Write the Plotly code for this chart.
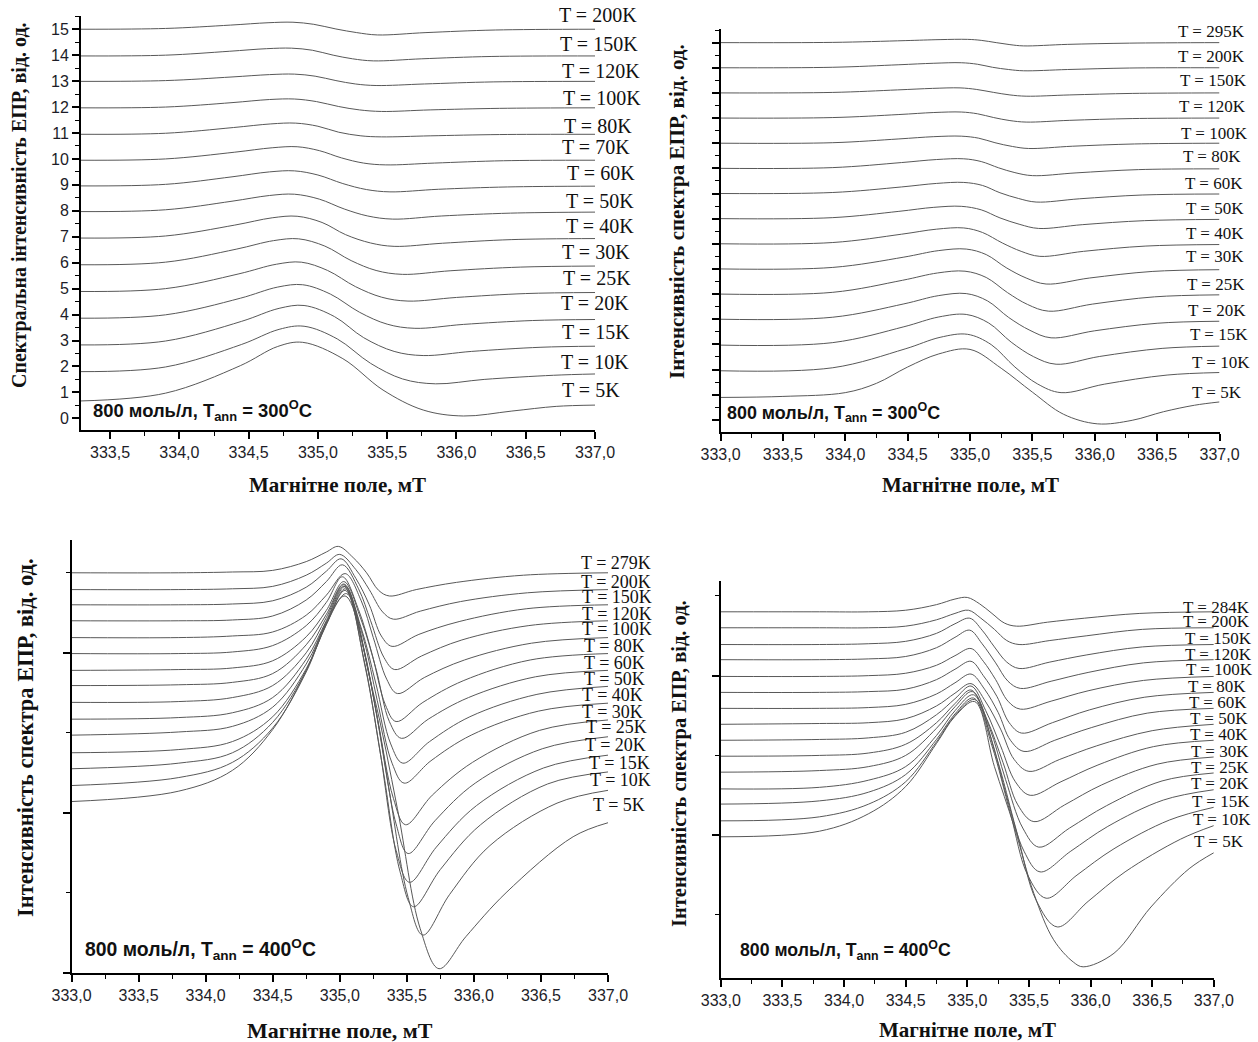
import plotly.graph_objects as go

W, H = 1258, 1042

# ---------------- axis ticks ----------------
field_ticks = [333.0, 333.5, 334.0, 334.5, 335.0, 335.5, 336.0, 336.5, 337.0]
field_tick_text = ["333,0", "333,5", "334,0", "334,5", "335,0", "335,5", "336,0", "336,5", "337,0"]
field_minor = [333.25, 333.75, 334.25, 334.75, 335.25, 335.75, 336.25, 336.75]
intensity_ticks_a = list(range(0, 16))
intensity_tick_text_a = [str(v) for v in intensity_ticks_a]

# ---------------- panel (a): 300 C, top left ----------------
temps_a = ["200K", "150K", "120K", "100K", "80K", "70K", "60K", "50K", "40K", "30K", "25K", "20K", "15K", "10K", "5K"]
field_a = [
    [333.29, 333.9, 334.37, 334.64, 334.82, 334.97, 335.13, 335.28, 335.43, 335.78, 336.28, 337.0],
    [333.29, 333.9, 334.36, 334.63, 334.81, 334.96, 335.11, 335.25, 335.40, 335.75, 336.25, 337.0],
    [333.29, 333.9, 334.38, 334.65, 334.83, 334.98, 335.13, 335.27, 335.42, 335.77, 336.27, 337.0],
    [333.29, 333.9, 334.38, 334.65, 334.83, 334.99, 335.15, 335.30, 335.46, 335.81, 336.31, 337.0],
    [333.29, 333.9, 334.39, 334.66, 334.84, 335.00, 335.15, 335.31, 335.46, 335.81, 336.31, 337.0],
    [333.29, 333.9, 334.40, 334.67, 334.85, 335.01, 335.17, 335.33, 335.49, 335.84, 336.34, 337.0],
    [333.29, 333.9, 334.38, 334.65, 334.83, 335.00, 335.18, 335.35, 335.52, 335.87, 336.37, 337.0],
    [333.29, 333.9, 334.38, 334.65, 334.83, 335.01, 335.19, 335.36, 335.54, 335.89, 336.39, 337.0],
    [333.29, 333.9, 334.40, 334.67, 334.85, 335.03, 335.20, 335.38, 335.55, 335.90, 336.40, 337.0],
    [333.29, 333.9, 334.41, 334.68, 334.86, 335.05, 335.24, 335.42, 335.61, 335.96, 336.46, 337.0],
    [333.29, 333.9, 334.43, 334.70, 334.88, 335.07, 335.27, 335.46, 335.65, 336.00, 336.50, 337.0],
    [333.29, 333.9, 334.44, 334.71, 334.89, 335.09, 335.30, 335.50, 335.70, 336.05, 336.55, 337.0],
    [333.29, 333.9, 334.45, 334.72, 334.90, 335.12, 335.33, 335.55, 335.76, 336.11, 336.61, 337.0],
    [333.29, 333.9, 334.45, 334.72, 334.90, 335.14, 335.38, 335.61, 335.85, 336.20, 336.70, 337.0],
    [333.29, 333.9, 334.44, 334.71, 334.89, 335.18, 335.47, 335.76, 336.05, 336.40, 336.72, 337.0],
]
signal_a = [
    [15.00, 15.03, 15.16, 15.25, 15.27, 15.19, 15.01, 14.87, 14.78, 14.87, 14.97, 15.00],
    [13.97, 14.00, 14.15, 14.25, 14.27, 14.19, 14.00, 13.86, 13.78, 13.86, 13.95, 13.97],
    [12.99, 13.02, 13.16, 13.25, 13.27, 13.19, 13.02, 12.89, 12.83, 12.89, 12.97, 12.99],
    [11.97, 12.00, 12.17, 12.29, 12.31, 12.21, 12.02, 11.89, 11.83, 11.89, 11.95, 11.97],
    [10.95, 10.99, 11.21, 11.35, 11.38, 11.26, 11.03, 10.89, 10.85, 10.89, 10.94, 10.95],
    [9.95, 10.00, 10.26, 10.43, 10.47, 10.32, 10.04, 9.84, 9.77, 9.84, 9.93, 9.95],
    [8.96, 9.02, 9.31, 9.50, 9.54, 9.38, 9.05, 8.82, 8.73, 8.83, 8.92, 8.95],
    [7.97, 8.04, 8.37, 8.59, 8.64, 8.45, 8.07, 7.80, 7.68, 7.80, 7.91, 7.95],
    [6.95, 7.03, 7.45, 7.73, 7.79, 7.55, 7.08, 6.76, 6.63, 6.75, 6.89, 6.93],
    [5.92, 6.02, 6.52, 6.85, 6.92, 6.64, 6.08, 5.70, 5.55, 5.69, 5.83, 5.87],
    [4.89, 5.00, 5.57, 5.94, 6.02, 5.70, 5.08, 4.67, 4.52, 4.66, 4.81, 4.85],
    [3.86, 3.99, 4.63, 5.06, 5.15, 4.79, 4.09, 3.63, 3.47, 3.62, 3.77, 3.81],
    [2.83, 2.98, 3.74, 4.24, 4.35, 3.92, 3.11, 2.58, 2.42, 2.58, 2.74, 2.78],
    [1.80, 1.98, 2.85, 3.43, 3.55, 3.06, 2.12, 1.52, 1.33, 1.50, 1.66, 1.71],
    [0.67, 0.97, 2.03, 2.77, 2.93, 2.30, 1.09, 0.32, 0.09, 0.28, 0.46, 0.51],
]

# ---------------- panel (b): 300 C, top right ----------------
temps_b = ["295K", "200K", "150K", "120K", "100K", "80K", "60K", "50K", "40K", "30K", "25K", "20K", "15K", "10K", "5K"]
field_b = [
    [333.0, 333.9, 334.48, 334.76, 334.98, 335.09, 335.21, 335.32, 335.43, 335.78, 336.28, 337.0],
    [333.0, 333.9, 334.43, 334.71, 334.93, 335.06, 335.18, 335.31, 335.43, 335.78, 336.28, 337.0],
    [333.0, 333.9, 334.42, 334.70, 334.92, 335.05, 335.19, 335.32, 335.45, 335.80, 336.30, 337.0],
    [333.0, 333.9, 334.43, 334.71, 334.93, 335.06, 335.19, 335.32, 335.45, 335.80, 336.30, 337.0],
    [333.0, 333.9, 334.43, 334.71, 334.93, 335.07, 335.20, 335.34, 335.47, 335.82, 336.32, 337.0],
    [333.0, 333.9, 334.45, 334.73, 334.95, 335.09, 335.23, 335.36, 335.50, 335.85, 336.35, 337.0],
    [333.0, 333.9, 334.45, 334.73, 334.95, 335.10, 335.24, 335.39, 335.53, 335.88, 336.38, 337.0],
    [333.0, 333.9, 334.43, 334.71, 334.93, 335.09, 335.24, 335.40, 335.55, 335.90, 336.40, 337.0],
    [333.0, 333.9, 334.45, 334.73, 334.95, 335.10, 335.26, 335.41, 335.56, 335.91, 336.41, 337.0],
    [333.0, 333.9, 334.47, 334.75, 334.97, 335.13, 335.29, 335.45, 335.61, 335.96, 336.46, 337.0],
    [333.0, 333.9, 334.46, 334.74, 334.96, 335.13, 335.30, 335.46, 335.63, 335.98, 336.48, 337.0],
    [333.0, 333.9, 334.47, 334.75, 334.97, 335.14, 335.31, 335.48, 335.65, 336.00, 336.50, 337.0],
    [333.0, 333.9, 334.47, 334.75, 334.97, 335.15, 335.33, 335.51, 335.69, 336.04, 336.54, 337.0],
    [333.0, 333.9, 334.48, 334.76, 334.98, 335.17, 335.36, 335.54, 335.73, 336.08, 336.58, 337.0],
    [333.0, 333.5, 334.0, 334.25, 334.5, 334.75, 335.0, 335.25, 335.5, 335.75, 336.02, 336.3, 336.55, 336.8, 337.0],
]
signal_b = [
    [15.00, 15.01, 15.08, 15.12, 15.13, 15.09, 15.00, 14.92, 14.87, 14.93, 14.98, 15.00],
    [14.00, 14.02, 14.12, 14.18, 14.20, 14.14, 14.02, 13.93, 13.88, 13.93, 13.99, 14.00],
    [13.00, 13.02, 13.12, 13.18, 13.20, 13.14, 13.02, 12.92, 12.87, 12.92, 12.98, 13.00],
    [12.00, 12.02, 12.14, 12.22, 12.24, 12.17, 12.02, 11.90, 11.84, 11.91, 11.98, 12.00],
    [11.00, 11.02, 11.17, 11.26, 11.28, 11.20, 11.02, 10.87, 10.79, 10.88, 10.97, 11.00],
    [10.00, 10.03, 10.23, 10.35, 10.38, 10.27, 10.02, 9.83, 9.71, 9.82, 9.95, 9.98],
    [9.00, 9.04, 9.26, 9.40, 9.44, 9.32, 9.03, 8.80, 8.66, 8.79, 8.94, 8.98],
    [8.00, 8.04, 8.29, 8.45, 8.49, 8.35, 8.03, 7.77, 7.61, 7.76, 7.92, 7.97],
    [7.00, 7.05, 7.38, 7.58, 7.63, 7.45, 7.03, 6.70, 6.50, 6.70, 6.91, 6.97],
    [6.00, 6.06, 6.47, 6.73, 6.79, 6.57, 6.05, 5.64, 5.40, 5.64, 5.90, 5.97],
    [5.00, 5.07, 5.55, 5.84, 5.91, 5.66, 5.06, 4.59, 4.32, 4.60, 4.89, 4.97],
    [4.00, 4.08, 4.61, 4.94, 5.02, 4.73, 4.07, 3.56, 3.26, 3.54, 3.84, 3.92],
    [2.97, 3.07, 3.70, 4.09, 4.19, 3.85, 3.09, 2.51, 2.21, 2.52, 2.84, 2.93],
    [1.95, 2.07, 2.82, 3.28, 3.40, 2.99, 2.10, 1.43, 1.08, 1.42, 1.78, 1.88],
    [0.89, 0.93, 1.08, 1.45, 2.10, 2.62, 2.80, 2.05, 1.10, 0.22, -0.16, -0.02, 0.32, 0.58, 0.71],
]

# ---------------- panel (c): 400 C, bottom left ----------------
temps_c = ["279K", "200K", "150K", "120K", "100K", "80K", "60K", "50K", "40K", "30K", "25K", "20K", "15K", "10K", "5K"]
field_c = [
    [333.0, 333.8, 334.2, 334.5, 334.75, 334.9, 334.99, 335.10, 335.20, 335.29, 335.37, 335.57, 335.87, 336.37, 337.0],
    [333.0, 333.8, 334.2, 334.5, 334.75, 334.9, 335.00, 335.12, 335.22, 335.32, 335.40, 335.60, 335.90, 336.40, 337.0],
    [333.0, 333.8, 334.2, 334.5, 334.75, 334.9, 335.01, 335.12, 335.22, 335.31, 335.39, 335.59, 335.89, 336.39, 337.0],
    [333.0, 333.8, 334.2, 334.5, 334.75, 334.9, 335.02, 335.14, 335.23, 335.33, 335.41, 335.61, 335.91, 336.41, 337.0],
    [333.0, 333.8, 334.2, 334.5, 334.75, 334.9, 335.04, 335.16, 335.25, 335.35, 335.43, 335.63, 335.93, 336.43, 337.0],
    [333.0, 333.8, 334.2, 334.5, 334.75, 334.9, 335.02, 335.14, 335.24, 335.34, 335.42, 335.62, 335.92, 336.42, 337.0],
    [333.0, 333.8, 334.2, 334.5, 334.75, 334.9, 335.03, 335.16, 335.27, 335.37, 335.46, 335.66, 335.96, 336.46, 337.0],
    [333.0, 333.8, 334.2, 334.5, 334.75, 334.9, 335.03, 335.16, 335.27, 335.38, 335.47, 335.67, 335.97, 336.47, 337.0],
    [333.0, 333.8, 334.2, 334.5, 334.75, 334.9, 335.03, 335.17, 335.28, 335.39, 335.48, 335.68, 335.98, 336.48, 337.0],
    [333.0, 333.8, 334.2, 334.5, 334.75, 334.9, 335.03, 335.17, 335.28, 335.40, 335.49, 335.69, 335.99, 336.49, 337.0],
    [333.0, 333.8, 334.2, 334.5, 334.75, 334.9, 335.04, 335.18, 335.30, 335.42, 335.51, 335.71, 336.01, 336.51, 337.0],
    [333.0, 333.8, 334.2, 334.5, 334.75, 334.9, 335.04, 335.18, 335.30, 335.42, 335.52, 335.72, 336.02, 336.52, 337.0],
    [333.0, 333.8, 334.2, 334.5, 334.75, 334.9, 335.04, 335.19, 335.32, 335.45, 335.55, 335.75, 336.05, 336.55, 337.0],
    [333.0, 333.8, 334.2, 334.5, 334.75, 334.9, 335.05, 335.22, 335.36, 335.51, 335.62, 335.82, 336.12, 336.62, 337.0],
    [333.0, 333.8, 334.2, 334.5, 334.75, 334.9, 335.04, 335.25, 335.43, 335.60, 335.74, 335.94, 336.24, 336.74, 337.0],
]
signal_c = [
    [5.00, 5.00, 5.01, 5.03, 5.14, 5.26, 5.33, 5.19, 5.00, 4.78, 4.71, 4.79, 4.88, 4.97, 5.00],
    [4.79, 4.79, 4.80, 4.83, 4.97, 5.12, 5.23, 5.04, 4.79, 4.51, 4.42, 4.52, 4.64, 4.75, 4.79],
    [4.60, 4.60, 4.61, 4.65, 4.82, 5.02, 5.175, 4.93, 4.60, 4.21, 4.08, 4.23, 4.39, 4.55, 4.60],
    [4.40, 4.40, 4.41, 4.46, 4.66, 4.89, 5.10, 4.80, 4.40, 3.94, 3.79, 3.96, 4.16, 4.34, 4.40],
    [4.19, 4.19, 4.21, 4.26, 4.47, 4.72, 4.99, 4.65, 4.19, 3.67, 3.49, 3.69, 3.91, 4.12, 4.19],
    [3.99, 3.99, 4.01, 4.09, 4.34, 4.63, 4.95, 4.54, 3.99, 3.35, 3.14, 3.38, 3.65, 3.91, 3.99],
    [3.78, 3.79, 3.81, 3.90, 4.20, 4.53, 4.89, 4.41, 3.80, 3.14, 2.93, 3.17, 3.44, 3.70, 3.78],
    [3.59, 3.60, 3.63, 3.74, 4.10, 4.48, 4.86, 4.31, 3.61, 2.86, 2.62, 2.89, 3.20, 3.48, 3.58],
    [3.38, 3.39, 3.44, 3.59, 4.00, 4.44, 4.85, 4.22, 3.40, 2.62, 2.37, 2.65, 2.97, 3.27, 3.37],
    [3.17, 3.19, 3.25, 3.44, 3.92, 4.40, 4.83, 4.12, 3.19, 2.18, 1.85, 2.22, 2.63, 3.03, 3.16],
    [2.97, 3.01, 3.08, 3.32, 3.86, 4.38, 4.83, 4.03, 2.99, 1.86, 1.49, 1.90, 2.37, 2.80, 2.95],
    [2.75, 2.79, 2.89, 3.20, 3.80, 4.35, 4.80, 3.92, 2.77, 1.53, 1.13, 1.57, 2.09, 2.56, 2.72],
    [2.55, 2.62, 2.75, 3.13, 3.78, 4.36, 4.78, 3.82, 2.57, 1.26, 0.825, 1.29, 1.85, 2.36, 2.51],
    [2.34, 2.44, 2.63, 3.06, 3.76, 4.36, 4.74, 3.71, 2.36, 0.94, 0.47, 0.98, 1.59, 2.12, 2.28],
    [2.14, 2.27, 2.53, 3.04, 3.78, 4.38, 4.71, 3.50, 2.05, 0.55, 0.05, 0.45, 1.00, 1.70, 1.875],
]

# ---------------- panel (d): 400 C, bottom right ----------------
temps_d = ["284K", "200K", "150K", "120K", "100K", "80K", "60K", "50K", "40K", "30K", "25K", "20K", "15K", "10K", "5K"]
field_d = [
    [333.0, 333.8, 334.2, 334.5, 334.75, 334.9, 335.00, 335.10, 335.20, 335.30, 335.40, 335.65, 335.95, 336.40, 337.0],
    [333.0, 333.8, 334.2, 334.5, 334.75, 334.9, 335.01, 335.11, 335.22, 335.32, 335.42, 335.67, 335.97, 336.42, 337.0],
    [333.0, 333.8, 334.2, 334.5, 334.75, 334.9, 335.02, 335.12, 335.22, 335.32, 335.42, 335.67, 335.97, 336.42, 337.0],
    [333.0, 333.8, 334.2, 334.5, 334.75, 334.9, 335.02, 335.12, 335.23, 335.33, 335.43, 335.68, 335.98, 336.43, 337.0],
    [333.0, 333.8, 334.2, 334.5, 334.75, 334.9, 335.03, 335.13, 335.23, 335.33, 335.43, 335.68, 335.98, 336.43, 337.0],
    [333.0, 333.8, 334.2, 334.5, 334.75, 334.9, 335.03, 335.13, 335.24, 335.34, 335.44, 335.69, 335.99, 336.44, 337.0],
    [333.0, 333.8, 334.2, 334.5, 334.75, 334.9, 335.03, 335.14, 335.25, 335.35, 335.46, 335.71, 336.01, 336.46, 337.0],
    [333.0, 333.8, 334.2, 334.5, 334.75, 334.9, 335.03, 335.15, 335.27, 335.38, 335.50, 335.75, 336.05, 336.50, 337.0],
    [333.0, 333.8, 334.2, 334.5, 334.75, 334.9, 335.03, 335.15, 335.27, 335.39, 335.51, 335.76, 336.06, 336.51, 337.0],
    [333.0, 333.8, 334.2, 334.5, 334.75, 334.9, 335.03, 335.16, 335.29, 335.41, 335.54, 335.79, 336.09, 336.54, 337.0],
    [333.0, 333.8, 334.2, 334.5, 334.75, 334.9, 335.04, 335.18, 335.31, 335.45, 335.58, 335.83, 336.13, 336.58, 337.0],
    [333.0, 333.8, 334.2, 334.5, 334.75, 334.9, 335.05, 335.19, 335.32, 335.46, 335.59, 335.84, 336.14, 336.59, 337.0],
    [333.0, 333.8, 334.2, 334.5, 334.75, 334.9, 335.05, 335.20, 335.35, 335.49, 335.64, 335.89, 336.19, 336.64, 337.0],
    [333.0, 333.8, 334.2, 334.5, 334.75, 334.9, 335.06, 335.23, 335.40, 335.56, 335.73, 335.98, 336.28, 336.73, 337.0],
    [333.0, 333.8, 334.2, 334.5, 334.75, 334.9, 335.06, 335.22, 335.38, 335.54, 335.70, 335.86, 335.94, 336.19, 336.49, 336.8, 337.0],
]
signal_d = [
    [4.80, 4.80, 4.80, 4.82, 4.89, 4.96, 4.98, 4.90, 4.78, 4.66, 4.62, 4.67, 4.72, 4.78, 4.80],
    [4.60, 4.60, 4.60, 4.62, 4.70, 4.78, 4.82, 4.72, 4.58, 4.44, 4.39, 4.44, 4.50, 4.58, 4.60],
    [4.39, 4.39, 4.40, 4.43, 4.53, 4.65, 4.72, 4.57, 4.36, 4.17, 4.09, 4.17, 4.26, 4.36, 4.39],
    [4.20, 4.20, 4.21, 4.24, 4.35, 4.48, 4.57, 4.40, 4.16, 3.93, 3.84, 3.93, 4.04, 4.16, 4.20],
    [3.99, 3.99, 4.00, 4.03, 4.13, 4.25, 4.34, 4.18, 3.95, 3.68, 3.58, 3.68, 3.81, 3.94, 3.99],
    [3.79, 3.79, 3.80, 3.83, 3.95, 4.08, 4.18, 4.00, 3.74, 3.41, 3.28, 3.41, 3.57, 3.73, 3.79],
    [3.59, 3.59, 3.60, 3.64, 3.77, 3.91, 4.02, 3.83, 3.54, 3.19, 3.05, 3.19, 3.35, 3.53, 3.59],
    [3.39, 3.40, 3.41, 3.46, 3.62, 3.78, 3.90, 3.67, 3.33, 2.95, 2.80, 2.95, 3.12, 3.31, 3.39],
    [3.19, 3.20, 3.22, 3.29, 3.51, 3.71, 3.87, 3.56, 3.12, 2.67, 2.50, 2.67, 2.88, 3.11, 3.19],
    [2.99, 3.00, 3.03, 3.14, 3.41, 3.65, 3.82, 3.45, 2.91, 2.38, 2.17, 2.38, 2.63, 2.89, 2.98],
    [2.79, 2.81, 2.86, 3.00, 3.34, 3.61, 3.80, 3.35, 2.70, 2.09, 1.85, 2.09, 2.37, 2.68, 2.78],
    [2.58, 2.60, 2.69, 2.86, 3.25, 3.56, 3.76, 3.23, 2.48, 1.80, 1.54, 1.80, 2.11, 2.44, 2.57],
    [2.39, 2.43, 2.54, 2.76, 3.20, 3.52, 3.72, 3.12, 2.27, 1.50, 1.21, 1.50, 1.83, 2.19, 2.35],
    [2.18, 2.23, 2.39, 2.67, 3.17, 3.50, 3.70, 3.01, 2.05, 1.18, 0.85, 1.17, 1.54, 1.95, 2.12],
    [1.98, 2.05, 2.27, 2.61, 3.15, 3.49, 3.675, 2.86, 2.11, 1.27, 0.69, 0.41, 0.35, 0.52, 1.10, 1.58, 1.78],
]

sample_text = {
    "a": "800 моль/л, T<sub>ann</sub> = 300<sup>O</sup>C",
    "b": "800 моль/л, T<sub>ann</sub> = 300<sup>O</sup>C",
    "c": "800 моль/л, T<sub>ann</sub> = 400<sup>O</sup>C",
    "d": "800 моль/л, T<sub>ann</sub> = 400<sup>O</sup>C",
}
x_title = "Магнітне поле, мТ"
y_title_a = "Спектральна інтенсивність ЕПР, від. од."
y_title_other = "Інтенсивність спектра ЕПР, від. од."

# ---------------- layout geometry (pixels) ----------------
SANS = "Liberation Sans, Arial, sans-serif"
SERIF = "Liberation Serif, Times New Roman, serif"
LINE_COLOR = "#585858"
TICK_FONT = dict(family=SANS, size=16, color="#1d1d28")

panels = {
    # name: (left, right, top, bottom, x-range, y-range)
    "a": (81, 595, 16, 430, [333.29, 337.0], [-0.45, 15.51]),
    "b": (720.5, 1219.5, 29.3, 432, [333.0, 337.0], [-0.485, 15.53]),
    "c": (71.5, 608, 540, 972.7, [333.0, 337.0], [0.0, 5.41]),
    "d": (720.8, 1213.8, 580.7, 978, [333.0, 337.0], [0.21, 5.19]),
}

# curve labels: left edge px, vertical centre px, font size
label_pos = {
    "a": ([557, 558, 560, 561, 562, 560, 565, 564, 564, 560, 561, 559, 560, 559, 560],
          [15, 44, 71, 98, 126, 147, 173, 201, 226, 252, 278, 303, 332, 362, 390], 20),
    "b": ([1176, 1176, 1178, 1177, 1179, 1181, 1183, 1184, 1184, 1184, 1185, 1186, 1188, 1190, 1190],
          [32, 57, 80, 107, 133, 157, 183, 208, 233, 257, 284, 310, 335, 362, 392], 17),
    "c": ([579, 579, 580, 580, 580, 582, 582, 582, 580, 580, 584, 583, 587, 588, 591],
          [563, 582, 597, 614, 629, 646, 663, 679, 695, 712, 727, 745, 763, 780, 805], 18),
    "d": ([1181, 1181, 1183, 1183, 1184, 1186, 1187, 1188, 1188, 1189, 1189, 1189, 1190, 1191, 1192],
          [607, 621, 638, 654, 669, 686, 702, 718, 734, 751, 767, 783, 801, 819, 841], 17),
}

# sample annotation: left px, centre px, size
sample_pos = {"a": (91, 411, 18.4), "b": (725, 412, 17.9), "c": (83, 949, 19.4), "d": (738, 950, 17.7)}
# axis titles: (x centre, y centre, size)
x_title_pos = {"a": (337, 485, 21), "b": (970, 485, 21), "c": (340, 1030, 22), "d": (967, 1030, 21)}
y_title_pos = {"a": (19, 205, 20), "b": (677, 212, 21), "c": (25, 738, 22.5), "d": (679, 764, 20.5)}

y_ticks = {
    "a": (intensity_ticks_a, intensity_tick_text_a, [v + 0.5 for v in range(0, 16)]),
    "b": (list(range(0, 16)), None, [v + 0.5 for v in range(0, 16)]),
    "c": ([0, 2, 4], None, [1, 3, 5]),
    "d": ([2, 4], None, [1, 3, 5]),
}

series = {
    "a": (temps_a, field_a, signal_a),
    "b": (temps_b, field_b, signal_b),
    "c": (temps_c, field_c, signal_c),
    "d": (temps_d, field_d, signal_d),
}


def fx(px):
    return px / W


def fy(py):
    return 1 - py / H


fig = go.Figure()
annotations = []
layout_axes = {}

for i, key in enumerate(["a", "b", "c", "d"]):
    left, right, top, bottom, xr, yr = panels[key]
    suffix = "" if i == 0 else str(i + 1)
    xname, yname = "x" + suffix, "y" + suffix
    temps, fields, signals = series[key]

    for t, xs, ys in zip(temps, fields, signals):
        fig.add_trace(go.Scatter(
            x=xs, y=ys, mode="lines", name="T = " + t,
            line=dict(color=LINE_COLOR, width=1.0, shape="spline", smoothing=1.0),
            xaxis=xname, yaxis=yname, showlegend=False, hoverinfo="skip",
        ))

    xt_vals = [v for v in field_ticks if xr[0] - 1e-9 <= v <= xr[1] + 1e-9]
    xt_text = [field_tick_text[field_ticks.index(v)] for v in xt_vals]
    xm_vals = [v for v in field_minor if xr[0] <= v <= xr[1]]
    layout_axes["xaxis" + suffix] = dict(
        domain=[fx(left), fx(right)], range=xr, anchor=yname, automargin=False,
        showline=True, linecolor="black", linewidth=2, mirror=False,
        showgrid=False, zeroline=False,
        tickmode="array", tickvals=xt_vals, ticktext=xt_text,
        ticks="outside", ticklen=7, tickwidth=1.6, tickcolor="black",
        tickfont=TICK_FONT,
        minor=dict(tickmode="array", tickvals=xm_vals, ticks="outside", ticklen=4,
                   tickwidth=1.4, tickcolor="black", showgrid=False),
    )
    yv, yt, ym = y_ticks[key]
    ym = [v for v in ym if yr[0] <= v <= yr[1]]
    yaxis = dict(
        domain=[fy(bottom), fy(top)], range=yr, anchor=xname, automargin=False,
        showline=True, linecolor="black", linewidth=2, mirror=False,
        showgrid=False, zeroline=False,
        tickmode="array", tickvals=yv,
        ticks="outside", ticklen=7, tickwidth=1.6, tickcolor="black",
        tickfont=TICK_FONT,
        minor=dict(tickmode="array", tickvals=ym, ticks="outside", ticklen=4,
                   tickwidth=1.4, tickcolor="black", showgrid=False),
    )
    if yt is None:
        yaxis["showticklabels"] = False
    else:
        yaxis["ticktext"] = yt
    layout_axes["yaxis" + suffix] = yaxis

    # temperature labels
    lx, ly, lsize = label_pos[key]
    for t, px, py in zip(temps, lx, ly):
        annotations.append(dict(
            text="T = " + t, x=fx(px), y=fy(py), xref="paper", yref="paper",
            xanchor="left", yanchor="middle", showarrow=False,
            font=dict(family=SERIF, size=lsize, color="#111111"),
        ))

    # sample annotation
    sx, sy, ss = sample_pos[key]
    annotations.append(dict(
        text=sample_text[key], x=fx(sx), y=fy(sy), xref="paper", yref="paper",
        xanchor="left", yanchor="middle", showarrow=False,
        font=dict(family=SANS, size=ss, color="#111111", weight="bold"),
    ))

    # axis titles
    tx, ty, ts = x_title_pos[key]
    annotations.append(dict(
        text="<b>" + x_title + "</b>", x=fx(tx), y=fy(ty), xref="paper", yref="paper",
        xanchor="center", yanchor="middle", showarrow=False,
        font=dict(family=SERIF, size=ts, color="#111111"),
    ))
    vx, vy, vs = y_title_pos[key]
    annotations.append(dict(
        text="<b>" + (y_title_a if key == "a" else y_title_other) + "</b>",
        x=fx(vx), y=fy(vy), xref="paper", yref="paper",
        xanchor="center", yanchor="middle", textangle=-90, showarrow=False,
        font=dict(family=SERIF, size=vs, color="#111111"),
    ))

fig.update_layout(
    width=W, height=H,
    margin=dict(l=0, r=0, t=0, b=0, autoexpand=False),
    paper_bgcolor="white", plot_bgcolor="white",
    showlegend=False,
    annotations=annotations,
    **layout_axes,
)

fig.write_html("out.html")
